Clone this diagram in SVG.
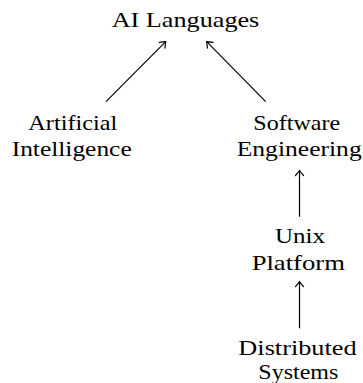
<svg xmlns="http://www.w3.org/2000/svg" width="363" height="383" viewBox="0 0 363 383">
<style>
text{font-family:"Liberation Serif","DejaVu Serif","Times New Roman",serif;font-size:21px;fill:#000;text-anchor:middle}
.edge{stroke:#000;stroke-width:1.2;fill:none;marker-end:url(#arr)}
</style>
<defs>
<marker id="arr" viewBox="-6 -5 8 10" refX="0" refY="0" markerWidth="8" markerHeight="10" markerUnits="userSpaceOnUse" orient="auto">
<path d="M-5,-4 Q-1.5,-1 0,0 Q-1.5,1 -5,4" fill="none" stroke="#000" stroke-width="1.2" stroke-linecap="round"/>
</marker>
</defs>
<rect width="363" height="383" fill="#fff"/>
<g id="connectors">
<line class="edge" x1="106" y1="101.7" x2="165.7" y2="41.7"/>
<line class="edge" x1="265.7" y1="101.7" x2="206.7" y2="41.7"/>
<line class="edge" x1="299.5" y1="216.7" x2="299.5" y2="170.5"/>
<line class="edge" x1="299.5" y1="328.3" x2="299.5" y2="281.7"/>
</g>
<g id="ai-languages"><text x="185.5" y="26.7" textLength="147.6" lengthAdjust="spacingAndGlyphs">AI Languages</text></g>
<g id="artificial-intelligence">
<text x="72.8" y="129.5" textLength="89" lengthAdjust="spacingAndGlyphs">Artificial</text>
<text x="71.7" y="156" textLength="120" lengthAdjust="spacingAndGlyphs">Intelligence</text>
</g>
<g id="software-engineering">
<text x="296.7" y="129.5" textLength="86.7" lengthAdjust="spacingAndGlyphs">Software</text>
<text x="299.2" y="156" textLength="125" lengthAdjust="spacingAndGlyphs">Engineering</text>
</g>
<g id="unix-platform">
<text x="300" y="243" textLength="50" lengthAdjust="spacingAndGlyphs">Unix</text>
<text x="298.3" y="270" textLength="93.3" lengthAdjust="spacingAndGlyphs">Platform</text>
</g>
<g id="distributed-systems">
<text x="297.5" y="355" textLength="118.3" lengthAdjust="spacingAndGlyphs">Distributed</text>
<text x="298.3" y="378.5" textLength="80" lengthAdjust="spacingAndGlyphs">Systems</text>
</g>
</svg>
